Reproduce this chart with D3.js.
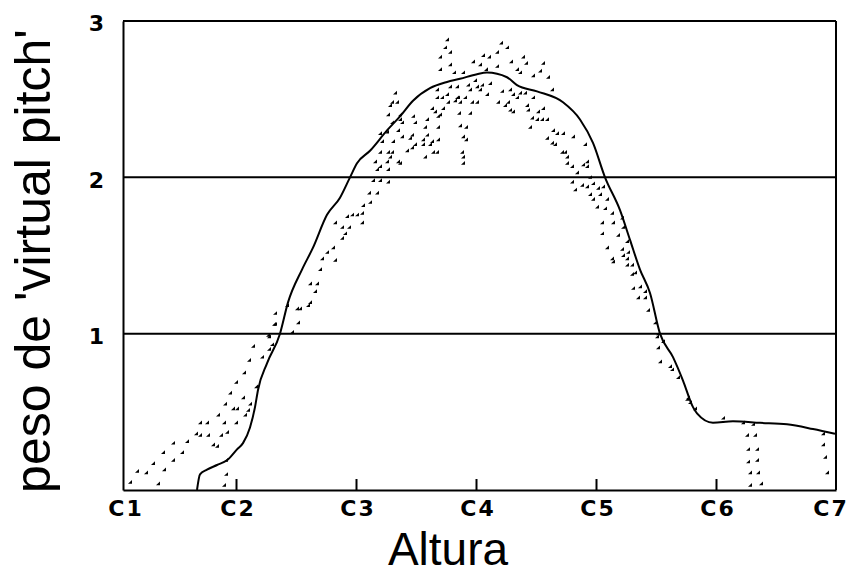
<!DOCTYPE html>
<html>
<head>
<meta charset="utf-8">
<script src="https://cdn.jsdelivr.net/npm/d3@7/dist/d3.min.js"></script>
<style>
  html, body { margin: 0; padding: 0; background: #fff; }
  svg { display: block; }
</style>
</head>
<body>
<svg id="chart" width="852" height="575"></svg>
<script>
// Pitch in semitones above C1; weight = 'virtual pitch' weight
const pitchTicks  = [0, 12, 24, 36, 48, 60, 72];
const pitchLabels = ["C1", "C2", "C3", "C4", "C5", "C6", "C7"];
const weightTicks = [1, 2, 3];
const gridValues  = [1, 2];

// Model curve (solid line)
const curvePitch = [8.1, 8.4, 9.1, 10.1, 11.1, 12.1, 12.7, 13.4, 13.9, 14.2, 15.1, 16.4, 17.2, 18.6, 19.7, 21.1, 22.4, 23.4, 24.1, 25.4, 27.1, 28.4, 29.7, 31.4, 33.1, 34.4, 36.1, 37.1, 39.1, 40.1, 42.1, 44.7, 46.4, 47.7, 48.9, 50.4, 51.4, 52.4, 53.4, 54.4, 55.7, 56.7, 57.7, 58.1, 59.7, 61.7, 64.4, 67.1, 69.7, 71.9];
const curveWeight = [0, 0.10, 0.13, 0.16, 0.19, 0.26, 0.30, 0.40, 0.53, 0.64, 0.81, 1.00, 1.20, 1.41, 1.55, 1.76, 1.87, 2.00, 2.09, 2.17, 2.30, 2.39, 2.49, 2.57, 2.61, 2.63, 2.66, 2.67, 2.64, 2.59, 2.55, 2.48, 2.37, 2.22, 2.00, 1.79, 1.60, 1.41, 1.26, 1.00, 0.85, 0.70, 0.53, 0.49, 0.43, 0.44, 0.43, 0.42, 0.39, 0.36];

// Measured points (dots)
const dotPitch = [
  1.4, 2.1, 3.0, 4.2, 3.7, 4.7, 4.8, 5.7, 5.7, 6.6, 7.1, 8.0, 8.4, 9.2, 8.4, 9.1, 9.7, 10.1, 10.2, 10.5,
  10.8, 11.1, 10.9, 11.4, 12.0, 11.7, 12.1, 12.0, 12.7, 12.9, 13.2, 13.4, 11.0, 11.0, 10.8, 12.8, 13.3, 13.7, 14.0, 14.6,
  15.3, 15.3, 15.6, 15.8, 15.9,
  15.2, 15.9, 17.6, 18.1, 18.4, 18.2, 17.1, 19.2, 19.4, 19.4, 20.1, 19.9, 20.4, 20.6, 21.1, 21.7, 21.9, 22.6, 22.9, 22.6,
  23.3, 23.1, 23.6, 24.1, 24.6, 24.6, 24.7, 25.4, 25.3, 26.1, 25.7, 26.4, 27.2, 26.1, 27.2, 25.9, 26.4, 27.1, 27.2, 26.4,
  27.6, 28.2, 29.1, 29.6, 29.9, 30.7, 31.7, 32.1, 30.9, 26.6, 27.7, 28.6, 29.6, 30.7, 31.1, 32.2, 31.6, 29.9, 30.9, 31.1,
  32.2, 31.6, 32.4, 32.7, 29.7, 28.4, 28.2, 28.6, 27.6, 27.2, 27.4, 28.1, 27.9, 32.1, 32.6, 33.1, 33.4, 32.1, 34.1, 28.4,
  21.9, 27.6, 27.1, 26.4, 28.4, 27.4, 29.4, 31.4, 31.9, 32.2,
  33.1, 32.9, 33.4, 32.4, 33.4, 32.4, 33.8, 34.7, 35.7, 36.4, 36.7, 37.3, 37.0, 38.1, 38.5, 39.1, 38.1, 39.5, 40.1, 40.7,
  41.0, 40.4, 41.7, 42.4, 42.7, 43.2, 43.6, 33.9, 33.2, 34.4, 34.1, 35.2, 35.4, 36.1, 36.4, 35.6, 36.1, 37.1, 37.4, 34.3,
  35.4, 34.4, 35.0, 34.7, 35.0, 34.6, 34.7, 34.7, 34.2, 34.9, 38.2, 38.9, 38.6, 39.4, 39.7, 40.1, 40.4, 40.9, 39.2, 39.7,
  41.1, 41.2, 41.7, 42.2, 42.7, 41.6, 42.1, 42.6, 43.1, 41.4, 35.9, 36.6, 39.4,
  43.7, 43.1, 43.6, 43.9, 44.1, 44.7, 44.9, 45.1, 45.1, 44.6, 45.7, 45.6, 46.1, 47.1, 47.1, 46.9, 45.6, 46.6, 47.1, 47.4,
  47.7, 48.2, 47.4, 48.4, 45.9, 48.1, 47.7, 46.7, 48.7, 48.9, 49.1, 48.6, 49.7, 49.6, 50.2, 48.6, 50.6, 50.7, 51.1, 49.1,
  49.6, 49.7, 50.6, 50.7, 51.2, 51.1, 51.1, 51.6, 51.6, 51.9, 51.7, 52.4, 52.2, 52.9, 52.9, 53.2, 53.9, 54.2, 54.1, 54.2,
  54.7, 54.4, 55.4, 55.6, 56.2, 57.1, 57.4, 57.9, 57.2,
  60.7, 62.7, 63.7, 63.1, 63.9, 63.2, 64.1, 63.2, 64.1, 63.4, 64.2, 63.4, 64.5, 70.7, 70.7, 70.9, 71.1
];
const dotWeight = [
  0.05, 0.12, 0.11, 0.04, 0.17, 0.24, 0.13, 0.30, 0.19, 0.24, 0.31, 0.36, 0.35, 0.35, 0.43, 0.43, 0.29, 0.28, 0.48, 0.35,
  0.43, 0.37, 0.55, 0.62, 0.69, 0.52, 0.52, 0.43, 0.59, 0.48, 0.51, 0.55, 0.19, 0.10, 0.03, 0.75, 0.83, 0.92, 0.66, 0.85,
  0.90, 0.98, 0.93, 1.06, 1.13,
  0.99, 1.06, 1.01, 1.16, 1.16, 1.07, 1.18, 1.18, 1.20, 1.32, 1.32, 1.27, 1.41, 1.48, 1.52, 1.55, 1.47, 1.61, 1.64, 1.68,
  1.68, 1.75, 1.76, 1.76, 1.77, 1.71, 1.82, 1.84, 1.90, 1.90, 1.98, 1.98, 1.97, 2.05, 2.05, 2.10, 2.07, 2.10, 2.16, 2.16,
  2.16, 2.10, 2.17, 2.19, 2.21, 2.21, 2.16, 2.16, 2.13, 2.23, 2.23, 2.26, 2.27, 2.24, 2.27, 2.24, 2.23, 2.35, 2.32, 2.37,
  2.32, 2.44, 2.40, 2.44, 2.39, 2.37, 2.30, 2.35, 2.35, 2.40, 2.46, 2.48, 2.54, 2.51, 2.51, 2.53, 2.58, 2.56, 2.51, 2.09,
  1.71, 2.48, 2.29, 2.28, 2.40, 2.13, 2.25, 2.21, 2.42, 2.39,
  2.88, 2.83, 2.80, 2.77, 2.72, 2.69, 2.67, 2.67, 2.74, 2.72, 2.78, 2.77, 2.69, 2.80, 2.86, 2.83, 2.71, 2.74, 2.69, 2.77,
  2.73, 2.67, 2.65, 2.68, 2.73, 2.64, 2.56, 2.49, 2.48, 2.48, 2.58, 2.59, 2.56, 2.58, 2.56, 2.48, 2.48, 2.53, 2.60, 2.41,
  2.41, 2.33, 2.32, 2.26, 2.24, 2.16, 2.13, 2.09, 2.51, 2.51, 2.48, 2.46, 2.55, 2.56, 2.53, 2.51, 2.54, 2.54, 2.48, 2.42,
  2.46, 2.43, 2.51, 2.42, 2.44, 2.38, 2.37, 2.37, 2.37, 2.32, 2.62, 2.59, 2.43,
  2.30, 2.25, 2.22, 2.21, 2.28, 2.28, 2.16, 2.13, 2.09, 2.16, 2.26, 2.07, 2.03, 2.10, 2.07, 2.21, 1.97, 1.95, 1.94, 2.00,
  1.96, 1.93, 1.89, 1.89, 1.92, 1.81, 1.86, 2.08, 1.94, 1.80, 1.86, 1.71, 1.71, 1.77, 1.63, 1.64, 1.74, 1.68, 1.59, 1.55,
  1.48, 1.46, 1.54, 1.50, 1.52, 1.48, 1.44, 1.44, 1.38, 1.39, 1.29, 1.30, 1.23, 1.23, 1.27, 1.15, 1.07, 1.00, 0.98, 0.91,
  0.95, 0.82, 0.79, 0.77, 0.72, 0.58, 0.56, 0.52, 0.59,
  0.46, 0.43, 0.42, 0.35, 0.35, 0.26, 0.26, 0.18, 0.19, 0.11, 0.11, 0.03, 0.04, 0.36, 0.29, 0.21, 0.11
];

(function () {
const svg = d3.select("#chart");
const mLeft = 123, mRight = 836, mTop = 21, mBottom = 490;

const x = d3.scaleLinear().domain([0.7, 72]).range([mLeft, mRight]);
const y = d3.scaleLinear().domain([0, 3]).range([mBottom, mTop]);

const tickFont = "'DejaVu Sans', sans-serif";

// Gridlines and frame
svg.append("g").selectAll("line").data(gridValues).join("line")
  .attr("x1", mLeft).attr("x2", mRight)
  .attr("y1", d => y(d)).attr("y2", d => y(d))
  .attr("stroke", "#000").attr("stroke-width", 2);

svg.append("line").attr("x1", mLeft).attr("x2", mRight).attr("y1", y(3)).attr("y2", y(3))
  .attr("stroke", "#000").attr("stroke-width", 2);
svg.append("line").attr("x1", mRight).attr("x2", mRight).attr("y1", y(3)).attr("y2", mBottom)
  .attr("stroke", "#000").attr("stroke-width", 2);

// X axis
const xAxis = d3.axisBottom(x)
  .tickValues(pitchTicks.filter(t => t > 0.7 && t < 72))
  .tickFormat("")
  .tickSizeInner(-11).tickSizeOuter(0);
const gx = svg.append("g").attr("transform", `translate(0,${mBottom})`).call(xAxis);
gx.select(".domain").attr("stroke", "#000").attr("stroke-width", 2);
gx.selectAll(".tick line").attr("stroke", "#000").attr("stroke-width", 2);

svg.append("g").selectAll("text").data(pitchTicks).join("text")
  .attr("x", (d) => Math.min(Math.max(x(d) + 2, 126), 831))
  .attr("y", 516)
  .attr("text-anchor", "middle")
  .attr("font-family", tickFont)
  .attr("font-size", 22)
  .attr("font-weight", "bold")
  .attr("letter-spacing", 2)
  .attr("fill", "#000")
  .text((d, i) => pitchLabels[i]);

// Y axis
const yAxis = d3.axisLeft(y).tickValues(weightTicks).tickFormat(d3.format("d"))
  .tickSize(0).tickPadding(19);
const gy = svg.append("g").attr("transform", `translate(${mLeft},0)`).call(yAxis);
gy.select(".domain").attr("stroke", "#000").attr("stroke-width", 2);
gy.selectAll(".tick text")
  .attr("font-family", tickFont).attr("font-size", 22).attr("font-weight", "bold")
  .attr("fill", "#000").attr("dy", "0.45em");

// Model curve
const curveData = curvePitch.map((p, i) => ({ p, w: curveWeight[i] }));
svg.append("path")
  .datum(curveData)
  .attr("fill", "none")
  .attr("stroke", "#000")
  .attr("stroke-width", 2)
  .attr("stroke-linejoin", "round")
  .attr("d", d3.line().curve(d3.curveMonotoneX).x(d => x(d.p)).y(d => y(d.w)));

// Dots
const dotData = dotPitch.map((p, i) => ({ p, w: dotWeight[i] }));
svg.append("g").selectAll("path").data(dotData).join("path")
  .attr("transform", d => `translate(${x(d.p)},${y(d.w)})`)
  .attr("d", "M-2,1.5L2,1.5L2,-2.2Z")
  .attr("fill", "#000");

// Axis titles
svg.append("text")
  .attr("transform", "translate(50,261) rotate(-90)")
  .attr("text-anchor", "middle")
  .attr("font-family", "'Liberation Sans', Arial, sans-serif")
  .attr("font-size", 50)
  .attr("fill", "#000")
  .text("peso de 'virtual pitch'");

svg.append("text")
  .attr("x", 448).attr("y", 565)
  .attr("text-anchor", "middle")
  .attr("font-family", "'Liberation Sans', Arial, sans-serif")
  .attr("font-size", 46)
  .attr("fill", "#000")
  .text("Altura");
})();
</script>
</body>
</html>
